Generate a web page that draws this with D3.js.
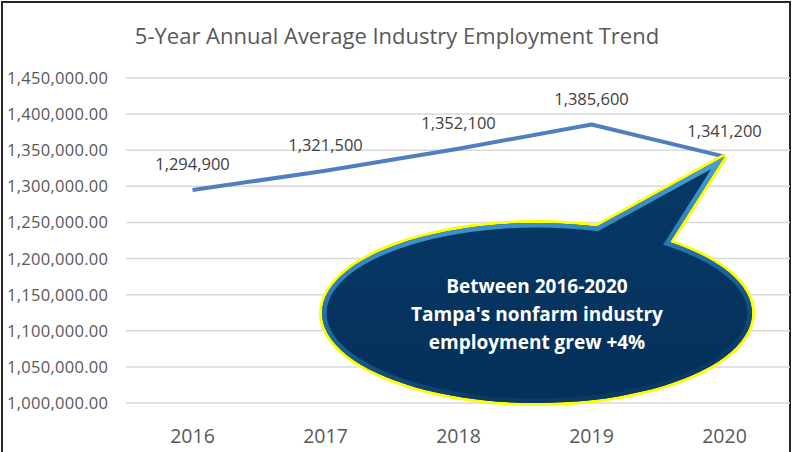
<!DOCTYPE html>
<html>
<head>
<meta charset="utf-8">
<script src="https://cdnjs.cloudflare.com/ajax/libs/d3/7.8.5/d3.min.js"></script>
<style>
  body { margin: 0; background: #fff; }
  svg text { font-family: "Open Sans", "Liberation Sans", sans-serif; }
</style>
</head>
<body>
<div id="chart"></div>
<script>
var years = ["2016", "2017", "2018", "2019", "2020"];
var employment = [1294900, 1321500, 1352100, 1385600, 1341200];
var yTicks = [1000000, 1050000, 1100000, 1150000, 1200000, 1250000, 1300000, 1350000, 1400000, 1450000];
var title = "5-Year Annual Average Industry Employment Trend";
var calloutLines = ["Between 2016-2020", "Tampa's nonfarm industry", "employment grew +4%"];

var width = 792, height = 452;
var margin = { left: 126, right: 1, top: 78, bottom: 49 };

var svg = d3.select("#chart").append("svg")
  .attr("width", width)
  .attr("height", height);

// outer frame
svg.append("rect")
  .attr("x", 2).attr("y", 2)
  .attr("width", 788).attr("height", 470)
  .attr("fill", "#fff")
  .attr("stroke", "#262626")
  .attr("stroke-width", 2);

var x = d3.scaleBand()
  .domain(years)
  .range([margin.left, width - margin.right]);

var y = d3.scaleLinear()
  .domain([1000000, 1450000])
  .range([height - margin.bottom, margin.top]);

// title
svg.append("text")
  .attr("x", 397).attr("y", 44)
  .attr("text-anchor", "middle")
  .attr("font-size", 22)
  .attr("fill", "#595959")
  .text(title);

// gridlines
svg.append("g")
  .selectAll("line")
  .data(yTicks)
  .enter().append("line")
  .attr("x1", margin.left).attr("x2", width - 2)
  .attr("y1", function (d) { return y(d); })
  .attr("y2", function (d) { return y(d); })
  .attr("stroke", "#d9d9d9")
  .attr("stroke-width", 1.5);

// y labels
var fmt = d3.format(",.2f");
svg.append("g")
  .selectAll("text")
  .data(yTicks)
  .enter().append("text")
  .attr("x", 7)
  .attr("y", function (d) { return y(d) + 6; })
  .attr("font-size", 16.5)
  .attr("textLength", 101)
  .attr("fill", "#595959")
  .text(function (d) { return fmt(d); });

// x labels
svg.append("g")
  .selectAll("text")
  .data(years)
  .enter().append("text")
  .attr("x", function (d) { return x(d) + x.bandwidth() / 2; })
  .attr("y", 443)
  .attr("text-anchor", "middle")
  .attr("font-size", 19.5)
  .attr("fill", "#595959")
  .text(function (d) { return d; });

// line
var pts = years.map(function (d, i) { return [x(d) + x.bandwidth() / 2, y(employment[i])]; });
svg.append("path")
  .attr("d", d3.line()(pts))
  .attr("fill", "none")
  .attr("stroke", "#4f7fc0")
  .attr("stroke-width", 4)
  .attr("stroke-linejoin", "round");

// data labels
var labelFmt = d3.format(",");
svg.append("g")
  .selectAll("text")
  .data(pts)
  .enter().append("text")
  .attr("x", function (d) { return d[0]; })
  .attr("y", function (d) { return d[1] - 20; })
  .attr("text-anchor", "middle")
  .attr("font-size", 16.5)
  .attr("fill", "#404040")
  .text(function (d, i) { return labelFmt(employment[i]); });

// callout bubble pointing at the last point
var tip = pts[pts.length - 1];
var cx = 537, cy = 313, rx = 215, ry = 90;
function onEllipse(px) {
  var dx = px - cx;
  return [px, cy - ry * Math.sqrt(1 - (dx * dx) / (rx * rx))];
}
var a = onEllipse(597), b = onEllipse(670);
var bubble = "M" + a[0] + "," + a[1] +
  " A" + rx + "," + ry + " 0 1 0 " + b[0] + "," + b[1] +
  " L" + tip[0] + "," + tip[1] + " Z";

var defs = svg.append("defs");
defs.append("clipPath").attr("id", "bubbleClip")
  .append("path").attr("d", bubble);

var grad = defs.append("linearGradient").attr("id", "bevel")
  .attr("x1", 0).attr("y1", 0).attr("x2", 0.3).attr("y2", 1);
grad.append("stop").attr("offset", "0%").attr("stop-color", "#c4ebfc");
grad.append("stop").attr("offset", "25%").attr("stop-color", "#4aa3dc");
grad.append("stop").attr("offset", "65%").attr("stop-color", "#1a6aa3");
grad.append("stop").attr("offset", "100%").attr("stop-color", "#0a3a66");

var fillGrad = defs.append("linearGradient").attr("id", "body")
  .attr("x1", 0).attr("y1", 0).attr("x2", 0).attr("y2", 1);
fillGrad.append("stop").attr("offset", "0%").attr("stop-color", "#073a68");
fillGrad.append("stop").attr("offset", "100%").attr("stop-color", "#04305a");

svg.append("path")
  .attr("d", bubble)
  .attr("fill", "url(#body)")
  .attr("stroke", "#ffff00")
  .attr("stroke-width", 6)
  .attr("stroke-linejoin", "miter");
svg.append("path")
  .attr("d", bubble)
  .attr("fill", "url(#body)")
  .attr("stroke", "none");
svg.append("path")
  .attr("d", bubble)
  .attr("fill", "none")
  .attr("clip-path", "url(#bubbleClip)")
  .attr("stroke", "url(#bevel)")
  .attr("stroke-width", 9)
  .attr("stroke-linejoin", "miter");

svg.append("g")
  .selectAll("text")
  .data(calloutLines)
  .enter().append("text")
  .attr("x", cx)
  .attr("y", function (d, i) { return 293 + i * 28; })
  .attr("text-anchor", "middle")
  .attr("font-size", 19)
  .attr("font-weight", "bold")
  .attr("fill", "#ffffff")
  .text(function (d) { return d; });
</script>
</body>
</html>
